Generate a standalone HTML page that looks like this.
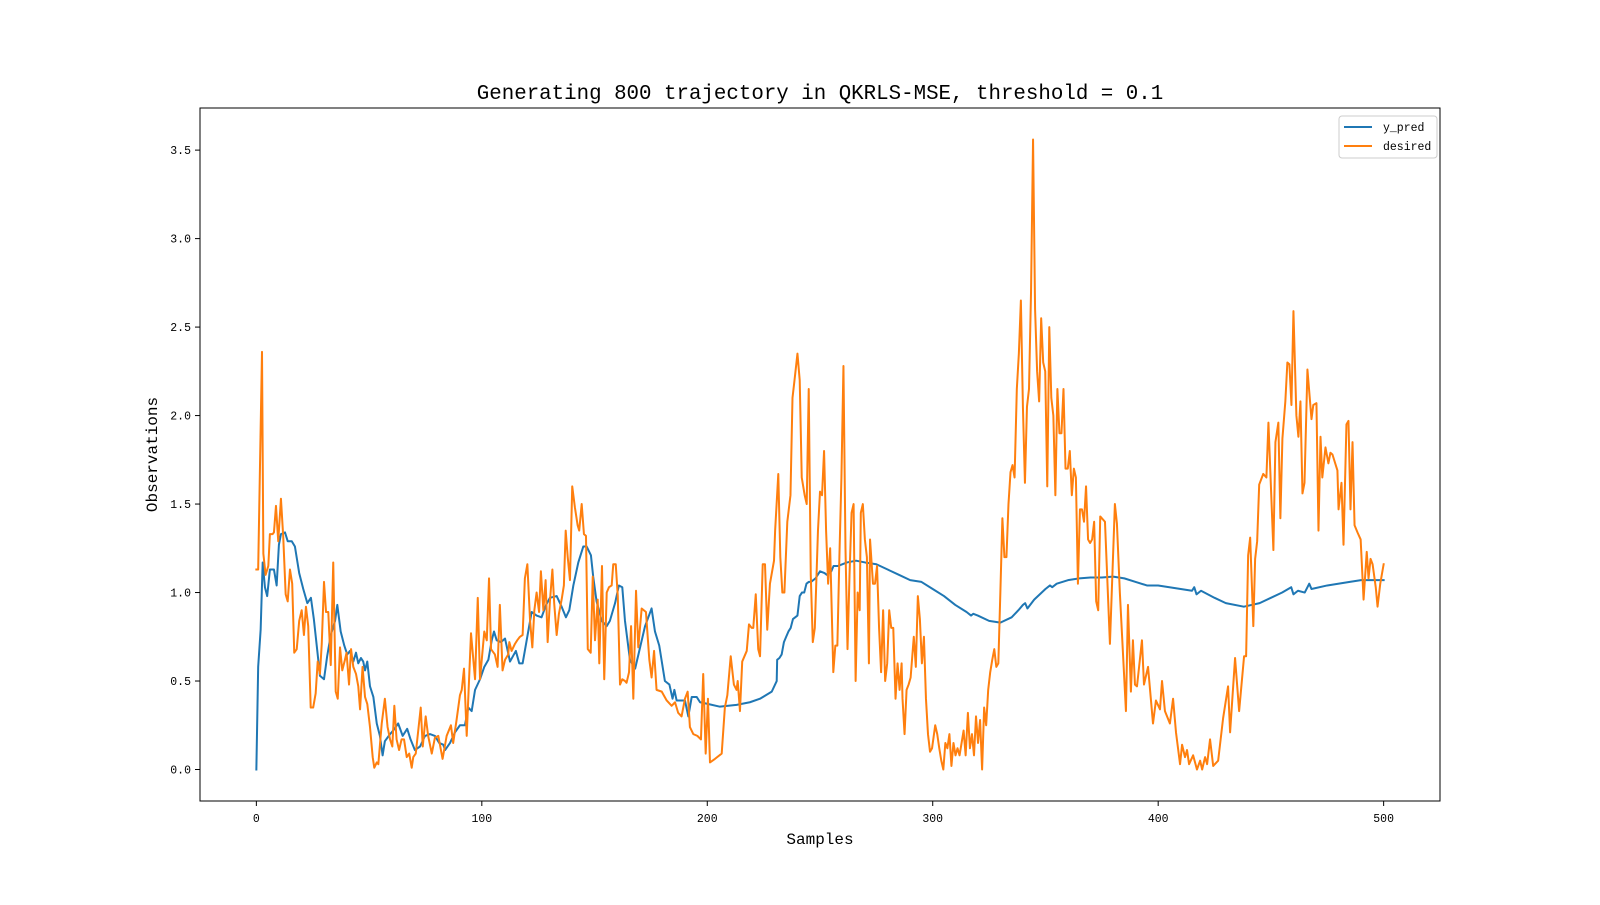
<!DOCTYPE html>
<html><head><meta charset="utf-8"><style>
html,body{margin:0;padding:0;background:#fff;}
svg text{font-family:"Liberation Mono","WenQuanYi Zen Hei",monospace;fill:#000;}
</style></head><body>
<svg id="chart" width="1600" height="900" viewBox="0 0 1600 900" xmlns="http://www.w3.org/2000/svg">
<rect x="0" y="0" width="1600" height="900" fill="#fff"/>
<text x="820" y="99" text-anchor="middle" font-size="20.8">Generating 800 trajectory in QKRLS-MSE, threshold = 0.1</text>
<g id="plot"></g>
<text x="820" y="844" text-anchor="middle" font-size="16">Samples</text>
<text x="0" y="0" transform="translate(157,454.5) rotate(-90)" text-anchor="middle" font-size="16">Observations</text>
<g>
<rect x="1339" y="116" width="98" height="42" rx="3" fill="#fff" fill-opacity="0.8" stroke="#ccc"/>
<g>
<line x1="1344" y1="127" x2="1372" y2="127" stroke="#1f77b4" stroke-width="2"/>
<text x="1383" y="131" font-size="11.5">y_pred</text>
</g>
<g>
<line x1="1344" y1="146" x2="1372" y2="146" stroke="#ff7f0e" stroke-width="2"/>
<text x="1383" y="150" font-size="11.5">desired</text>
</g>
</g>
</svg>
<script>
const xTicks = [0, 100, 200, 300, 400, 500];
const xTickLabels = ["0", "100", "200", "300", "400", "500"];
const yTicks = [0, 0.5, 1.0, 1.5, 2.0, 2.5, 3.0, 3.5];
const yTickLabels = ["0.0", "0.5", "1.0", "1.5", "2.0", "2.5", "3.0", "3.5"];

// y_pred series, in segments (x = sample index, y = value)
const predXa = [0,0.8,1.9,2.8,3.8,4.8,6,7.8,9,10,10.9,12.7,13.9,15.7,17.1,19,20.8,22.6,24.2,25.5,27.2,28.2,30,31.4,33,34.9,35.9,37.4,39,40.3,41.5,43,44.2,45.2,46.4,47.4,48.2,49.2,50.4,51.9,53.4,54.8,56,57,59.3,60.7,62.9,64.9,66.9,68.4,70.3,72.6,74.8,77,79.2,81.1,82.9];
const predYa = [0,0.58,0.79,1.17,1.03,0.98,1.13,1.13,1.04,1.27,1.33,1.34,1.29,1.29,1.26,1.11,1.02,0.94,0.97,0.85,0.65,0.53,0.51,0.64,0.76,0.84,0.93,0.78,0.70,0.65,0.67,0.61,0.66,0.60,0.63,0.61,0.56,0.61,0.47,0.41,0.26,0.19,0.08,0.16,0.20,0.22,0.26,0.19,0.23,0.17,0.11,0.13,0.19,0.20,0.19,0.15,0.14];
const predXb = [83.7,85.9,88.1,90.3,92.5,94,95.5,97,99.2,101.1,102.9,104.4,105.4,106.6,108.5,110.3,112.5,115.1,116.6,118.1,119.9,122.1,124.3,126.5,128.5,130.2,133.2,135.4,137.3,138.8,140.6,142.8,145,146.5,148.4,149.4,150.9,153.2,155.4,156.8,159.1,160.8,162.3];
const predYb = [0.11,0.15,0.21,0.25,0.25,0.35,0.33,0.45,0.51,0.58,0.62,0.73,0.78,0.73,0.72,0.74,0.61,0.67,0.60,0.60,0.73,0.89,0.87,0.86,0.93,0.97,0.98,0.92,0.86,0.90,1.04,1.17,1.26,1.26,1.21,1.09,0.95,0.84,0.81,0.84,0.94,1.04,1.03];
const predXc = [163.5,165.7,168,170.2,172.4,175.3,176.8,178.7,181.2,183.2,184.6,185.4,186.4,190.1,191.6,193.1,195.3,196.8,200.4,205.6,213,218.9,223.4,228.6,230.8];
const predYc = [0.84,0.62,0.57,0.69,0.81,0.91,0.78,0.70,0.50,0.48,0.40,0.45,0.39,0.39,0.30,0.41,0.41,0.38,0.37,0.355,0.365,0.38,0.40,0.44,0.50];
const predXd = [231,232,233,234,235,236,237,238,239,240,241,242,243,244,245,246,248,250,252,253,255,256,258,262,266,270,275,280,285,290,295,300,305,310,315,317,318,320,325,330,335,338,340,341,342,345,350,352,353,355,360,365,370,375,380,385,390,395,400,410,415,416,417,419,425,430,438,445,450,455,459,460,462,465,467,468,475,485,490,500];
const predYd = [0.62,0.63,0.65,0.72,0.75,0.78,0.8,0.85,0.86,0.87,0.98,1.0,1.0,1.05,1.06,1.06,1.08,1.12,1.11,1.1,1.12,1.15,1.15,1.17,1.18,1.17,1.16,1.13,1.1,1.07,1.06,1.02,0.98,0.93,0.89,0.87,0.88,0.87,0.84,0.83,0.86,0.9,0.93,0.94,0.91,0.96,1.02,1.04,1.03,1.05,1.07,1.08,1.085,1.085,1.09,1.08,1.06,1.04,1.04,1.02,1.01,1.03,0.99,1.01,0.97,0.94,0.92,0.94,0.97,1.0,1.03,0.99,1.01,1.0,1.05,1.02,1.04,1.06,1.07,1.07];

// desired series, in segments
const desXa = [0,0.8,2.5,3.1,4.1,5.3,6,7.2,7.8,8.7,9.7,10.9,11.9,13,13.9,14.9,15.9,16.8,17.9,19,20.1,21.1,22,23,24.1,25.2,26.3,27.2,28.2,29,30,30.9,31.9,33,34.1,35.2,36.1,37.1,38.1,39.3,40,41.1,42,43,44.2,45.2,46,47.1,48.2,49.2,50.4,51.6,52.3,53.4,54.1,55.6,57,58.2,59.3,60.3,61.2,62.2,63.3,64.4,65.5,66.7,67.8,68.9,69.6,70.7,71.8,72.9,73.8,75.1,76.2,77.8,79.2,80.7];
const desYa = [1.13,1.13,2.36,1.22,1.10,1.15,1.33,1.33,1.34,1.49,1.29,1.53,1.32,0.99,0.95,1.13,1.05,0.66,0.68,0.84,0.90,0.76,0.92,0.81,0.35,0.35,0.43,0.61,0.54,0.71,1.06,0.89,0.89,0.59,1.17,0.44,0.40,0.69,0.56,0.62,0.66,0.48,0.68,0.58,0.54,0.47,0.34,0.58,0.41,0.37,0.24,0.07,0.01,0.04,0.03,0.26,0.40,0.24,0.17,0.13,0.36,0.17,0.11,0.17,0.17,0.07,0.09,0.01,0.07,0.09,0.22,0.35,0.13,0.30,0.19,0.09,0.18,0.19];
const desXb = [82.6,84.4,86.3,87.3,88.8,90.3,91.1,92.1,93.3,95.2,97,98.2,99.2,101.1,102.2,103.2,104.1,105.8,107,108,109.2,110.3,111.7,112.2,113.2,114.7,115.7,116.9,118.1,119.1,120.2,121.4,122.4,123.3,124.3,125.4,126.2,127.3,128.3,129.2,130.2,131.3,132.1,133.2,134.2,135.4,136.4,137.2,138.1,139.1,140.1,141.3,142.5,143.2,144.3,145.3,146.2,147,148.3,149.2,150.2,151.4,152.1,153.3,154.3,155.4,156.4,157.6,158.3,159.4,160.3,161.3,162.3,163.5,164.2,165.3,166.2,167.2,168.4];
const desYb = [0.06,0.19,0.25,0.15,0.28,0.42,0.45,0.57,0.19,0.77,0.51,0.97,0.51,0.78,0.73,1.08,0.68,0.65,0.58,0.93,0.56,0.62,0.65,0.72,0.67,0.71,0.73,0.75,0.76,1.08,1.16,0.84,0.69,0.90,1.00,0.89,1.12,0.90,1.07,0.72,0.95,1.13,0.94,0.76,0.88,0.96,1.04,1.35,1.20,1.07,1.60,1.48,1.38,1.35,1.50,1.33,1.32,0.68,0.66,1.09,0.73,0.96,0.60,1.15,0.51,1.00,1.03,1.04,1.16,1.16,0.98,0.48,0.51,0.50,0.49,0.55,0.81,0.40,1.01];
const desXc = [169.4,170.9,172.8,174.3,175.3,176.4,177.5,179.8,182,184.2,185.7,187.1,188.6,190.1,191.3,192.3,193.8,195.6,197.2,198.2,199.3,200.3,201.2,203.4,206.4,207.8,208.9,210.4,211.8,213,213.5,214.5,215.5,217.5,218.5,219.7,220.4,221.5,222.6,223.4,224.6,225.6,226.6,227.8,229.6];
const desYc = [0.69,0.91,0.89,0.62,0.52,0.67,0.45,0.44,0.39,0.36,0.38,0.32,0.30,0.40,0.44,0.24,0.20,0.19,0.17,0.54,0.09,0.40,0.04,0.06,0.09,0.35,0.42,0.64,0.48,0.45,0.50,0.33,0.61,0.67,0.82,0.80,0.80,0.99,0.68,0.64,1.16,1.16,0.79,1.05,1.18];
const desXd = [230.1,231.5,232.4,233.3,234.2,235.5,236.9,237.8,238.7,240,241,241.9,243.2,244.1,245,245.9,246.8,247.7,249.1,250,250.9,251.8,252.7,253.6,254.5,255.9,256.8,257.7,258.6,259.5,260.4,261.3,262.2,263.1,264,264.9,265.8,266.7,267.6,268.1,269,269.9,270.8,271.7,272.2,273.5,274.4,275.3,276.2,277.1,278,278.9,279.8,280.7,281.6,282.5,283.5,284.4,285.3,286.2,286.6,287.5,288.4,289.3,290.2,291.6,292.5,293.4,294.3,295.2,296.1,297,297.9,298.8,299.7,301.1,302,302.9,303.8,304.7,305.6,306.5,307.4,308.3,309.2,310.1,311,311.9,312.8,313.7,314.6,315.6,316.5,317.4,318.3,319.2,320.1,321,321.9,322.8,323.7,324.6,325.5,326.4,327.3,328.2,329.1,330,330.9,331.8,332.7,333.6,334.5,335.4,336.3,337.3,338.2,339.1,340,340.9,341.8,342.7,343.6,344.5,345.4,346.3,347.2,348.1,349,349.9,350.8,351.7,352.6,353.5,354.4,355.3,356.2,357.1,358,358.9,359.9,360.8,361.7,362.6,363.5,364.4,365.3,366.2,367.1,368,368.9,369.8,370.7,371.6,372.5,373.4,374.3];
const desYd = [1.35,1.67,1.2,1.0,1.0,1.4,1.55,2.1,2.2,2.35,2.2,1.65,1.55,1.5,2.15,1.1,0.72,0.8,1.35,1.57,1.55,1.8,1.35,1.05,1.25,0.55,0.7,0.7,1.2,1.65,2.28,1.25,0.68,1.1,1.45,1.5,0.5,1.0,0.9,1.45,1.5,1.3,1.2,0.6,1.3,1.05,1.05,1.15,0.8,0.55,0.9,0.5,0.6,0.9,0.8,0.8,0.4,0.6,0.45,0.6,0.4,0.2,0.45,0.48,0.52,0.75,0.58,0.98,0.85,0.6,0.75,0.4,0.2,0.1,0.12,0.25,0.2,0.12,0.05,0.0,0.15,0.12,0.2,0.02,0.15,0.08,0.12,0.08,0.15,0.22,0.08,0.32,0.12,0.2,0.08,0.3,0.15,0.28,0.0,0.35,0.25,0.45,0.55,0.62,0.68,0.58,0.6,1.0,1.42,1.2,1.2,1.5,1.68,1.72,1.65,2.15,2.35,2.65,2.05,1.62,2.05,2.15,2.7,3.56,2.6,2.25,2.08,2.55,2.3,2.25,1.6,2.5,2.1,2.0,1.55,2.15,1.9,1.9,2.15,1.7,1.7,1.8,1.55,1.7,1.65,1.05,1.47,1.47,1.4,1.6,1.3,1.28,1.3,1.4,0.95,0.9,1.43];
const desXe = [376.4,378.6,380.8,381.7,383,385.7,386.6,387.9,388.8,389.7,390.6,392.8,393.7,395.5,397.7,399,400.8,401.7,403,405.2,406.6,407.9,409.7,410.6,411.9,412.8,413.7,415.5,417.2,418.6,419.5,420.8,421.7,423,424.4,426.6,428.8,431,431.9,434.1,435.9,438.1,439,439.9,440.8,442.2,443,443.9,444.8,446.6,448,448.9,451.1,452,453.3,454.2,455.1,456.4,457.3,458.2,459.1,460,461.3,462.2,463.1,464,464.9,466.2,468,468.8,470.2,471.1,472,472.8,474.2,475.5,476.4,477.3,479.5,480,481.3,482.2,483.5,484.4,485.3,486.2,487.1,488.4,489.8,491.1,492.5,493.3,494.2,495.1,496.5,497.3,498.5,500];
const desYe = [1.40,0.71,1.50,1.39,1.0,0.33,0.93,0.44,0.73,0.48,0.47,0.73,0.48,0.58,0.26,0.39,0.34,0.5,0.33,0.26,0.40,0.21,0.03,0.14,0.07,0.11,0.03,0.08,0.0,0.05,0.0,0.07,0.03,0.17,0.02,0.05,0.29,0.47,0.21,0.63,0.33,0.64,0.64,1.21,1.31,0.81,1.19,1.29,1.61,1.67,1.65,1.96,1.24,1.85,1.96,1.42,1.87,2.08,2.30,2.29,2.06,2.59,2.0,1.88,2.08,1.56,1.62,2.26,1.98,2.06,2.07,1.35,1.88,1.65,1.82,1.73,1.79,1.78,1.69,1.47,1.62,1.27,1.95,1.97,1.47,1.85,1.38,1.34,1.30,0.96,1.23,1.08,1.19,1.16,1.03,0.92,1.05,1.16];

const predX = predXa.concat(predXb, predXc, predXd);
const predY = predYa.concat(predYb, predYc, predYd);
const desX = desXa.concat(desXb, desXc, desXd, desXe);
const desY = desYa.concat(desYb, desYc, desYd, desYe);

const L = 200, R = 1440, T = 108, B = 801;
const xMin = -25, xMax = 525, yMin = -0.178, yMax = 3.738;
function xs(v){ return L + (v - xMin) / (xMax - xMin) * (R - L); }
function ys(v){ return B - (v - yMin) / (yMax - yMin) * (B - T); }
const NS = "http://www.w3.org/2000/svg";
const plot = document.getElementById('plot');
function mk(tag, attrs){ const e = document.createElementNS(NS, tag); for (const k in attrs) e.setAttribute(k, attrs[k]); return e; }

function series(xa, ya, color, name){
  let d = "";
  const n = Math.min(xa.length, ya.length);
  for (let i = 0; i < n; i++) d += (i ? "L" : "M") + xs(xa[i]).toFixed(2) + "," + ys(ya[i]).toFixed(2);
  const p = mk('path', {d: d, fill: 'none', stroke: color, 'stroke-width': 2, 'stroke-linejoin': 'round', 'stroke-linecap': 'square'});
  
  
  plot.appendChild(p);
}
series(predX, predY, '#1f77b4', 'y-pred-line');
series(desX, desY, '#ff7f0e', 'desired-line');

const frame = mk('rect', {x: L, y: T, width: R - L, height: B - T, fill: 'none', stroke: '#000', 'stroke-width': 1});


plot.appendChild(frame);

for (let i = 0; i < xTicks.length; i++){
  const x = xs(xTicks[i]);
  const t = mk('line', {x1: x, y1: B, x2: x, y2: B + 5, stroke: '#000', 'stroke-width': 1});
  
  
  plot.appendChild(t);
  const lb = mk('text', {x: x, y: B + 21, 'text-anchor': 'middle', 'font-size': 11.5});
  lb.textContent = xTickLabels[i];
  
  
  plot.appendChild(lb);
}
for (let i = 0; i < yTicks.length; i++){
  const y = ys(yTicks[i]);
  const t = mk('line', {x1: L - 5, y1: y, x2: L, y2: y, stroke: '#000', 'stroke-width': 1});
  
  
  plot.appendChild(t);
  const lb = mk('text', {x: L - 9, y: y + 4, 'text-anchor': 'end', 'font-size': 11.5});
  lb.textContent = yTickLabels[i];
  
  
  plot.appendChild(lb);
}
</script>
</body></html>
